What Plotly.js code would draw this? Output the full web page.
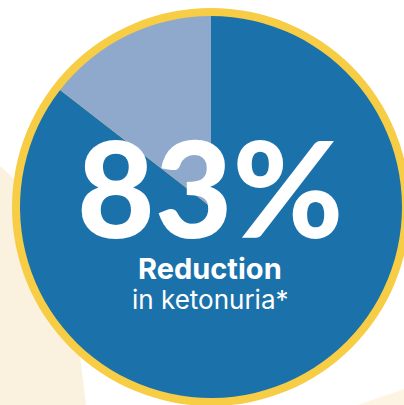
<!DOCTYPE html>
<html>
<head>
<meta charset="utf-8">
<script src="https://cdn.plot.ly/plotly-3.0.1.min.js"></script>
<style>html,body{margin:0;padding:0;background:#fff;}#chart{width:404px;height:405px;}</style>
</head>
<body>
<div id="chart"></div>
<script>
// Data (slice sizes as drawn)
const categories = ["Reduction", "Remaining"];
const values = [85.5, 14.5];
const sliceColors = ["#1b72ab", "#8fa9cd"];
const bigLabel = "83%";
const subLabel1 = "Reduction";
const subLabel2 = "in ketonuria*";

const W = 404, H = 405;
const cx = 211, cy = 207, rIn = 191, rOut = 199;
const px = x => x / W;
const py = y => 1 - y / H;

const trace = {
  type: "pie",
  labels: categories,
  values: values,
  sort: false,
  direction: "clockwise",
  rotation: 0,
  marker: { colors: sliceColors, line: { width: 0 } },
  textinfo: "none",
  hoverinfo: "none",
  showlegend: false,
  domain: { x: [px(cx - rIn), px(cx + rIn)], y: [py(cy + rIn), py(cy - rIn)] }
};

const layout = {
  width: W, height: H,
  margin: { l: 0, r: 0, t: 0, b: 0 },
  paper_bgcolor: "#ffffff",
  showlegend: false,
  shapes: [
    { type: "path", xref: "paper", yref: "paper", layer: "below",
      path: "M " + px(0) + "," + py(166) + " Q " + px(68) + "," + py(225) + " " + px(78) + "," + py(340) + " L " + px(86) + "," + py(405) + " L " + px(0) + "," + py(405) + " Z",
      fillcolor: "#faf1df", line: { width: 0 } },
    { type: "path", xref: "paper", yref: "paper", layer: "below",
      path: "M " + px(358) + "," + py(405) + " L " + px(404) + "," + py(389) + " L " + px(404) + "," + py(405) + " Z",
      fillcolor: "#fdf4e4", line: { width: 0 } },
    { type: "circle", xref: "paper", yref: "paper", layer: "below",
      x0: px(cx - rOut), x1: px(cx + rOut), y0: py(cy + rOut), y1: py(cy - rOut),
      fillcolor: "#f6cd45", line: { width: 0 } }
  ],
  annotations: [
    { text: bigLabel, xref: "paper", yref: "paper", x: px(210), y: py(186), xanchor: "center", yanchor: "middle",
      showarrow: false, font: { family: "Lato, Inter, sans-serif", size: 134, color: "#ffffff", weight: 900 } },
    { text: subLabel1, xref: "paper", yref: "paper", x: px(210), y: py(268), xanchor: "center", yanchor: "middle",
      showarrow: false, font: { family: "Inter, Lato, sans-serif", size: 29, color: "#ffffff", weight: 700 } },
    { text: subLabel2, xref: "paper", yref: "paper", x: px(210), y: py(299), xanchor: "center", yanchor: "middle",
      showarrow: false, font: { family: "Inter, Lato, sans-serif", size: 26, color: "#ffffff", weight: 400 } }
  ]
};

Plotly.newPlot("chart", [trace], layout, { staticPlot: true, displayModeBar: false });
</script>
</body>
</html>
